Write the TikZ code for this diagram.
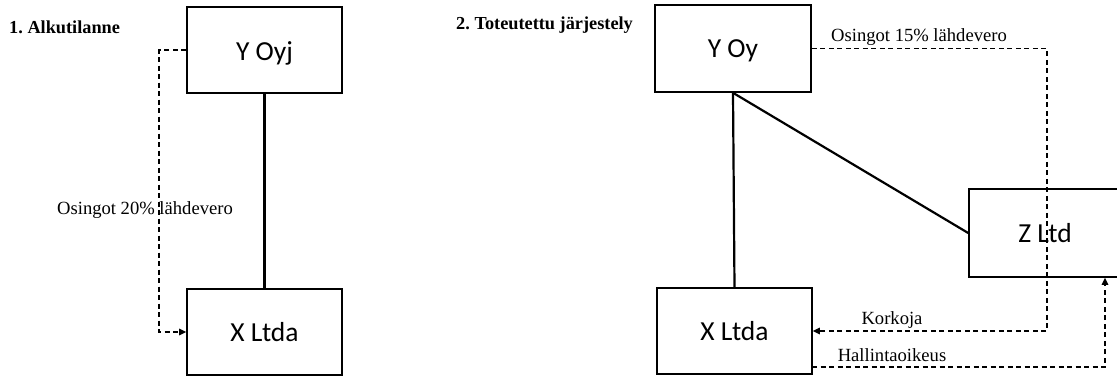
\documentclass[tikz,border=0pt]{standalone}
\usepackage{fontspec}
\setmainfont{Liberation Serif}
\newfontfamily\boxfont{Carlito}
\usetikzlibrary{arrows.meta}
\frenchspacing
\begin{document}
\begin{tikzpicture}[x=1pt,y=-1pt,
  company/.style={draw=black,line width=1.6pt,fill=white,minimum width=155pt,
    minimum height=86pt,inner sep=0pt,text depth=0pt,
    font=\boxfont\fontsize{27.5}{30}\selectfont},
  owner/.style={line width=2.2pt},
  flow/.style={dashed,dash pattern=on 5pt off 3.5pt,line width=1.5pt,
    -{Triangle[length=7pt,width=6.5pt]}},
  lbl/.style={inner sep=0pt,font=\fontsize{18.6}{20}\selectfont},
  ttl/.style={inner sep=0pt,anchor=west,font=\bfseries\fontsize{18.3}{20}\selectfont}]
\useasboundingbox (0,0) rectangle (1117,376);

% 1. Initial situation
\node[ttl] (t1) at (9,27) {1. Alkutilanne};
\node[company] (Y1) at (264.5,50) {\raisebox{-3pt}{Y Oyj}};
\node[company] (X1) at (264.5,332) {X Ltda};
\draw[owner] (Y1.south) -- (X1.north);
\draw[flow] (Y1.west) -- ++(-27,0) |- (X1.west);
\node[lbl] (l1) at (145,210) {Osingot 20\% lähdevero};

% 2. Implemented arrangement
\node[ttl] (t2) at (456,25) {2. Toteutettu järjestely};
\node[company,minimum width=156pt,minimum height=87pt] (Y2) at (733,48.5) {Y Oy};
\node[company] (X2) at (734.5,331) {X Ltda};
\node[company,minimum width=152pt,minimum height=88pt] (Z) at (1045,233) {Z Ltd};
\draw[owner] (Y2.south) -- (X2.north);
\draw[owner] (Y2.south) -- (Z.west);

\coordinate (k) at (1047,0);
\draw[flow] (Y2.east) -| (k |- X2.east) -- (X2.east);
\node[lbl] (l2) at (919,37) {Osingot 15\% lähdevero};
\node[lbl] (l3) at (892,320) {Korkoja};

\coordinate (h1) at (812,367);
\coordinate (h2) at (1105,367);
\draw[flow] (h1) -- (h2) -- (h2 |- Z.south);
\node[lbl] (l4) at (892,355) {Hallintaoikeus};
\end{tikzpicture}
\end{document}
